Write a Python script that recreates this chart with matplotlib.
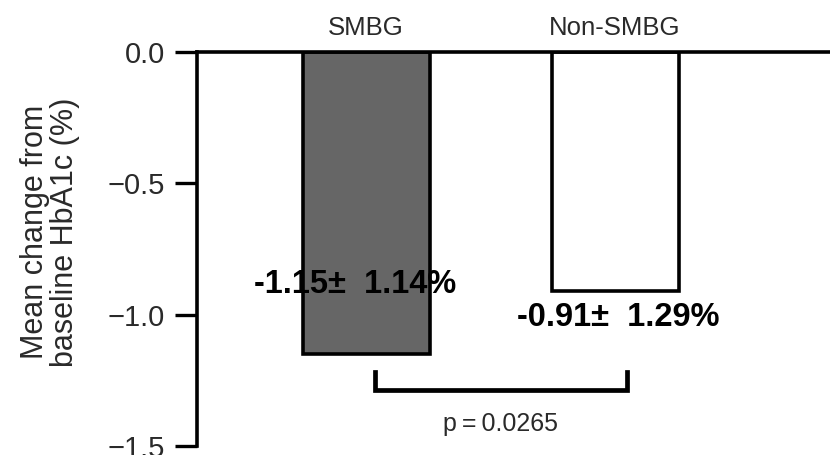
import matplotlib
matplotlib.use("Agg")
import matplotlib.pyplot as plt

# Mean change from baseline HbA1c (%) by group
groups = ["SMBG", "Non-SMBG"]
mean_change = [-1.15, -0.91]
sd_change = [1.14, 1.29]
bar_colors = ["#666666", "#ffffff"]
y_ticks = [0.0, -0.5, -1.0, -1.5]
y_tick_labels = ["0.0", "\u22120.5", "\u22121.0", "\u22121.5"]
p_value = "p\u2009=\u20090.0265"

plt.rcParams["font.family"] = ["Liberation Sans", "DejaVu Sans"]

fig = plt.figure(figsize=(8.3, 4.55), dpi=100)
ax = fig.add_axes([197 / 830, 1 - 446 / 455, 1 - 197 / 830, (446 - 52) / 455])

x = list(range(len(groups)))
ax.bar(x, mean_change, width=0.51, color=bar_colors, edgecolor="black",
       linewidth=2.6, zorder=3)

ax.set_xlim(-0.679, 1.863)
ax.set_ylim(-1.5, 0.0)

# zero line
ax.axhline(0, color="black", linewidth=2.6, zorder=4, clip_on=False)

for s in ["top", "right", "bottom"]:
    ax.spines[s].set_visible(False)
ax.spines["left"].set_linewidth(2.6)
ax.set_xticks([])
ax.set_yticks(y_ticks)
ax.set_yticklabels(y_tick_labels)
ax.tick_params(axis="y", length=16, width=2.4, pad=7, labelsize=21,
               labelcolor="#2a2a2a")

# group names above the bars
for xi, name in zip(x, groups):
    ax.text(xi, 0.09, name, ha="center", va="center", fontsize=18.5,
            color="#2a2a2a", clip_on=False)

# value labels
label_pos = [(-0.044, -0.886), (1.012, -1.011)]
for (tx, ty), m, s in zip(label_pos, mean_change, sd_change):
    ax.text(tx, ty, f"{m:.2f}\u00b1  {s:.2f}%", ha="center", va="center",
            fontsize=23.5, fontweight="bold", color="black", zorder=5)

# significance bracket
bx0, bx1 = 0.036, 1.048
by_top, by_bot = -1.217, -1.285
ax.plot([bx0, bx0, bx1, bx1], [by_top, by_bot, by_bot, by_top],
        color="black", linewidth=3.4, solid_joinstyle="miter", clip_on=False)
ax.text(0.538, -1.418, p_value, ha="center", va="center", fontsize=18,
        color="#2a2a2a")

fig.text(50 / 830, 1 - 232 / 455, "Mean change from\nbaseline HbA1c (%)",
         rotation=90, ha="center", va="center", fontsize=22,
         color="#2a2a2a", linespacing=1.0)

fig.savefig("out.png", dpi=100)
